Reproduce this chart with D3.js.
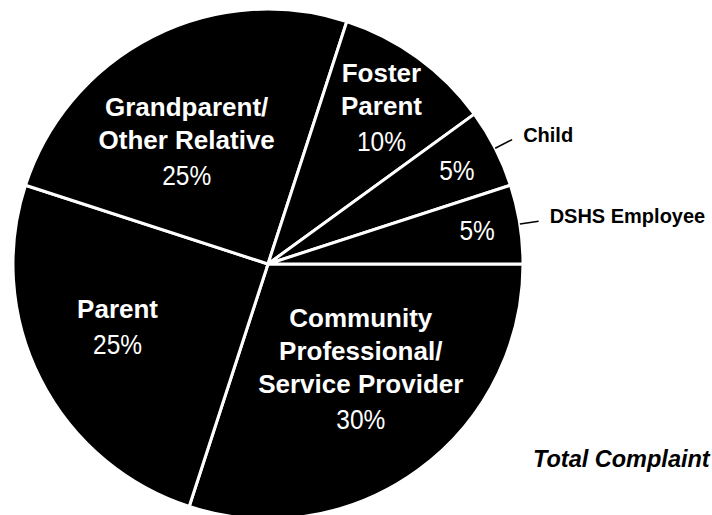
<!DOCTYPE html>
<html>
<head>
<meta charset="utf-8">
<script src="https://cdn.jsdelivr.net/npm/d3@7/dist/d3.min.js"></script>
<style>
  html, body { margin: 0; padding: 0; background: #fff; }
  svg { display: block; }
</style>
</head>
<body>
<svg id="chart" width="712" height="515"></svg>
<script>
// Who filed complaints, share of total (%)
const categories = [
  "Community Professional/ Service Provider",
  "Parent",
  "Grandparent/ Other Relative",
  "Foster Parent",
  "Child",
  "DSHS Employee"
];
const values = [30, 25, 25, 10, 5, 5];
// Name lines drawn inside the slice (empty = name placed outside with a leader)
const insideNames = [
  ["Community", "Professional/", "Service Provider"],
  ["Parent"],
  ["Grandparent/", "Other Relative"],
  ["Foster", "Parent"],
  [],
  []
];
const footerText = "Total Complaint";

// Label placement within each slice: radius fraction and angle nudge (deg)
const labelRadius = [0.549, 0.639, 0.578, 0.757, 0.827, 0.831];
const labelNudge = [-5.5, 4.4, -6.5, 0, 0.6, -0.2];

const svg = d3.select("#chart");
const cx = 268, cy = 264, R = 255;
const nameFont = "'Liberation Sans', Arial, sans-serif";
const pctFont = "'Liberation Sans', Arial, sans-serif";
const pctSqueeze = 0.86; // condensed look for the percentages

const data = categories.map((c, i) => ({ name: c, value: values[i], lines: insideNames[i], idx: i }));

const pie = d3.pie()
  .value(d => d.value)
  .sort(null)
  .startAngle(Math.PI / 2)
  .endAngle(Math.PI / 2 + 2 * Math.PI);

const arc = d3.arc().innerRadius(0).outerRadius(R);
const arcs = pie(data);

const g = svg.append("g").attr("transform", `translate(${cx},${cy})`);

g.selectAll("path.slice")
  .data(arcs)
  .join("path")
  .attr("class", "slice")
  .attr("d", arc)
  .attr("fill", "#000")
  .attr("stroke", "#fff")
  .attr("stroke-width", 3)
  .attr("stroke-linejoin", "miter");

const polar = (angle, r) => [Math.sin(angle) * r, -Math.cos(angle) * r];

// Labels inside slices
const lineGap = 33, pctGap = 36, capH = 18;
arcs.forEach(a => {
  const i = a.data.idx;
  const mid = (a.startAngle + a.endAngle) / 2 + labelNudge[i] * Math.PI / 180;
  const [lx, ly] = polar(mid, R * labelRadius[i]);
  const n = a.data.lines.length;
  const blockH = n > 0 ? capH + lineGap * (n - 1) + pctGap : 20;
  const top = ly - blockH / 2;
  const lbl = g.append("g").attr("class", "label");
  let base = top + capH;
  a.data.lines.forEach((line, k) => {
    lbl.append("text")
      .attr("x", lx).attr("y", base + k * lineGap)
      .attr("text-anchor", "middle")
      .attr("fill", "#fff")
      .attr("font-family", nameFont)
      .attr("font-weight", "bold")
      .attr("font-size", 26)
      .text(line);
  });
  const pctY = n > 0 ? base + lineGap * (n - 1) + pctGap : ly + 10;
  lbl.append("text")
    .attr("transform", `translate(${lx},${pctY}) scale(${pctSqueeze},1)`)
    .attr("text-anchor", "middle")
    .attr("fill", "#fff")
    .attr("font-family", pctFont)
    .attr("font-size", 28.5)
    .text(d3.format(".0%")(a.data.value / 100));
});

// Outside labels with leader lines for the small slices
arcs.filter(a => a.data.lines.length === 0).forEach(a => {
  const mid = (a.startAngle + a.endAngle) / 2;
  const [x1, y1] = polar(mid, R);
  const [x2, y2] = polar(mid, R + 19);
  g.append("line")
    .attr("x1", x1).attr("y1", y1).attr("x2", x2).attr("y2", y2)
    .attr("stroke", "#000").attr("stroke-width", 1.5);
  g.append("text")
    .attr("x", x2 + 11).attr("y", y2 + 2)
    .attr("fill", "#000")
    .attr("font-family", nameFont)
    .attr("font-weight", "bold")
    .attr("font-size", 20)
    .text(a.data.name);
});

svg.append("text")
  .attr("x", 533).attr("y", 467)
  .attr("fill", "#000")
  .attr("font-family", nameFont)
  .attr("font-weight", "bold")
  .attr("font-style", "italic")
  .attr("font-size", 23.5)
  .text(footerText);
</script>
</body>
</html>
